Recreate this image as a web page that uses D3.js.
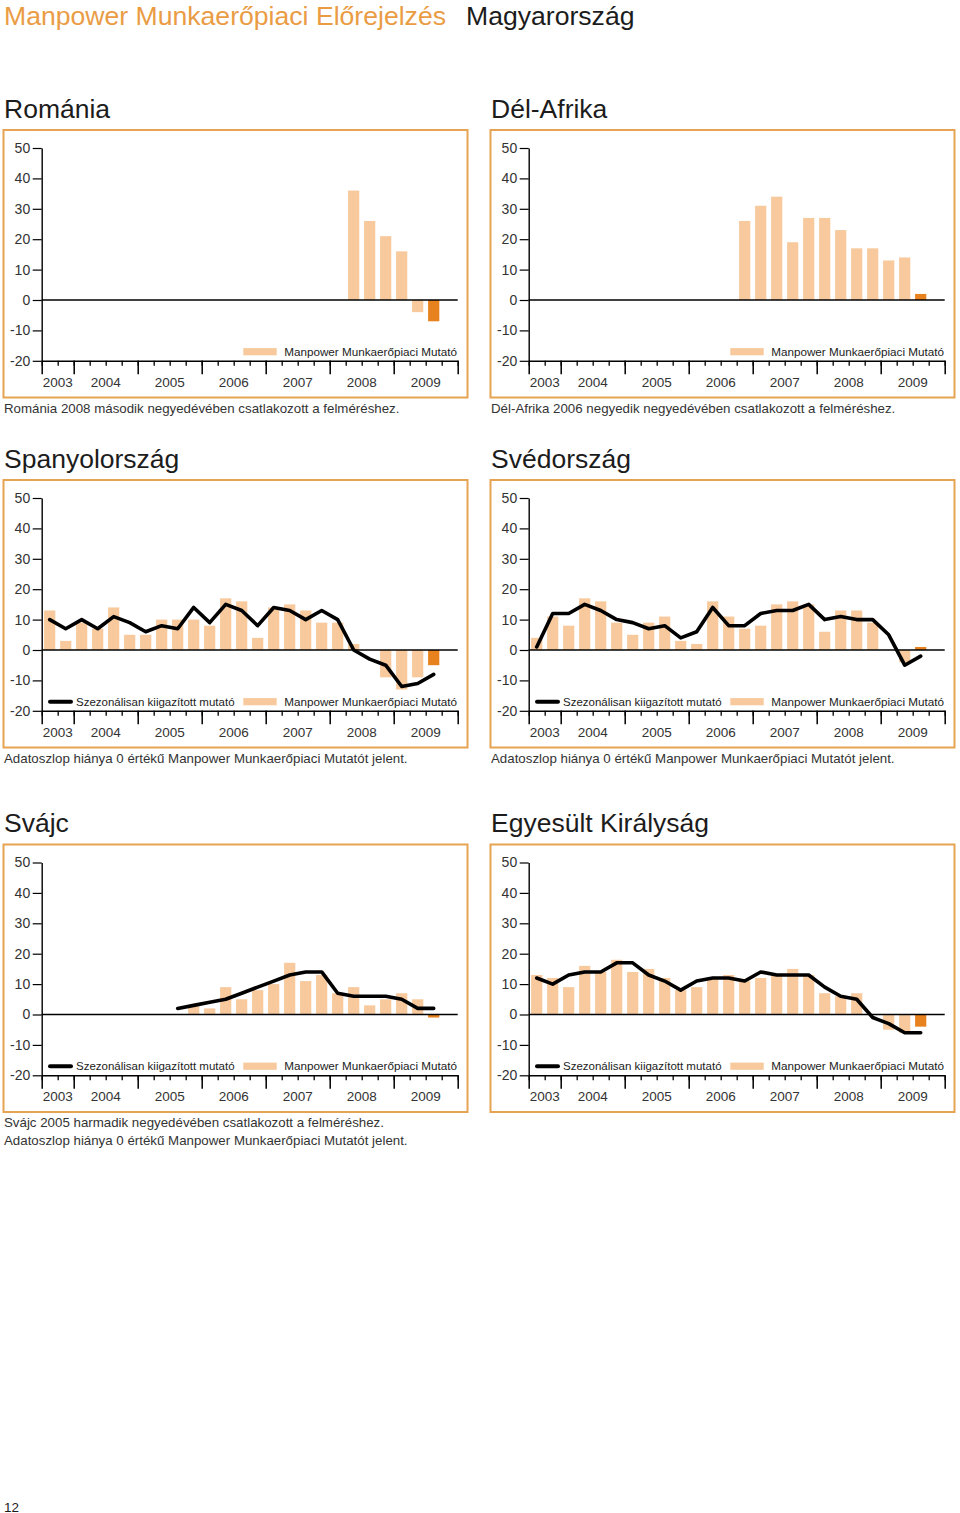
<!DOCTYPE html>
<html>
<head>
<meta charset="utf-8">
<script src="https://cdn.jsdelivr.net/npm/d3@7"></script>
<style>
  html, body { margin: 0; padding: 0; background: #fff; }
  svg { display: block; font-family: "Liberation Sans", Arial, Helvetica, sans-serif; }
</style>
</head>
<body>
<svg id="chart" width="960" height="1513"></svg>
<script>
// ---------------- DATA ----------------
const quarters = [
  "2003 Q3","2003 Q4",
  "2004 Q1","2004 Q2","2004 Q3","2004 Q4",
  "2005 Q1","2005 Q2","2005 Q3","2005 Q4",
  "2006 Q1","2006 Q2","2006 Q3","2006 Q4",
  "2007 Q1","2007 Q2","2007 Q3","2007 Q4",
  "2008 Q1","2008 Q2","2008 Q3","2008 Q4",
  "2009 Q1","2009 Q2","2009 Q3","2009 Q4"
];
const years = ["2003","2004","2005","2006","2007","2008","2009"];
const yTicks = [50, 40, 30, 20, 10, 0, -10, -20];
const forecastQuarter = "2009 Q3";

const headerTitle = "Manpower Munkaerőpiaci Előrejelzés";
const headerCountry = "Magyarország";
const pageNumber = "12";
const legendIndex = "Manpower Munkaerőpiaci Mutató";
const legendSA = "Szezonálisan kiigazított mutató";
const noteMissing = "Adatoszlop hiánya 0 értékű Manpower Munkaerőpiaci Mutatót jelent.";

// values aligned to quarters (2003 Q3 ... 2009 Q3); null = no data
const romaniaIndex = [null,null,null,null,null,null,null,null,null,null,null,null,null,null,null,null,null,null,null,36,26,21,16,-4,-7];

const southAfricaIndex = [null,null,null,null,null,null,null,null,null,null,null,null,null,26,31,34,19,27,27,23,17,17,13,14,2];

const spainIndex = [13,3,9,7,14,5,5,10,10,10,8,17,16,4,14,15,13,9,9,2,0,-9,-13,-9,-5];
const spainSA    = [10,7,10,7,11,9,6,8,7,14,9,15,13,8,14,13,10,13,10,0,-3,-5,-12,-11,-8];

const swedenIndex = [4,11,8,17,16,9,5,9,11,3,2,16,11,7,8,15,16,15,6,13,13,9,0,-4,1];
const swedenSA    = [1,12,12,15,13,10,9,7,8,4,6,14,8,8,12,13,13,15,10,11,10,10,5,-5,-2];

const switzerlandIndex = [null,null,null,null,null,null,null,null,0,3,2,9,5,8,10,17,11,13,7,9,3,5,7,5,-1];
const switzerlandSA    = [null,null,null,null,null,null,null,null,2,3,4,5,7,9,11,13,14,14,7,6,6,6,5,2,2];

const ukIndex = [13,12,9,16,14,18,14,15,12,8,9,12,13,11,12,13,15,13,7,6,7,0,-5,-6,-4];
const ukSA    = [12,10,13,14,14,17,17,13,11,8,11,12,12,11,14,13,13,13,9,6,5,-1,-3,-6,-6];

const panels = [
  { title: "Románia", col: 0, row: 0, index: romaniaIndex, sa: null,
    notes: ["Románia 2008 második negyedévében csatlakozott a felméréshez."] },
  { title: "Dél-Afrika", col: 1, row: 0, index: southAfricaIndex, sa: null,
    notes: ["Dél-Afrika 2006 negyedik negyedévében csatlakozott a felméréshez."] },
  { title: "Spanyolország", col: 0, row: 1, index: spainIndex, sa: spainSA,
    notes: [noteMissing] },
  { title: "Svédország", col: 1, row: 1, index: swedenIndex, sa: swedenSA,
    notes: [noteMissing] },
  { title: "Svájc", col: 0, row: 2, index: switzerlandIndex, sa: switzerlandSA,
    notes: ["Svájc 2005 harmadik negyedévében csatlakozott a felméréshez.", noteMissing] },
  { title: "Egyesült Királyság", col: 1, row: 2, index: ukIndex, sa: ukSA,
    notes: [] }
];

// ---------------- STYLE / LAYOUT ----------------
const colDX = [0, 487];
const rowZero = [300, 650, 1014.5];
const C = {
  light: "#f7c99c",
  orange: "#e8821e",
  frame: "#e6a352",
  header: "#ea9c45",
  text: "#333333",
  title: "#1c1c1c"
};

const svg = d3.select("#chart");

// Header
svg.append("text").attr("x", 4).attr("y", 24.5)
  .attr("font-size", 26.6).attr("fill", C.header).text(headerTitle);
svg.append("text").attr("x", 466).attr("y", 24.5)
  .attr("font-size", 26.6).attr("fill", C.title).text(headerCountry);

// Page number
svg.append("text").attr("x", 4).attr("y", 1511.5)
  .attr("font-size", 13.5).attr("fill", C.title).text(pageNumber);

panels.forEach(p => {
  const dx = colDX[p.col];
  const Y0 = rowZero[p.row];
  const g = svg.append("g");

  const x0 = 41.7 + dx, x1 = 457.7 + dx;
  const y = d3.scaleLinear().domain([-20, 50]).range([Y0 + 60.8, Y0 - 152]);
  const x = d3.scaleBand().domain(quarters).range([x0, x1])
    .paddingInner(0.3).paddingOuter(0.15);
  const slot = d3.scaleLinear().domain([0, quarters.length]).range([x0, x1]);

  // title
  g.append("text").attr("x", 4 + dx).attr("y", Y0 - 182.3)
    .attr("font-size", 26.5).attr("fill", C.title).text(p.title);

  // frame
  g.append("rect").attr("x", 3.5 + dx).attr("y", Y0 - 170)
    .attr("width", 464).attr("height", 267.5)
    .attr("fill", "none").attr("stroke", C.frame).attr("stroke-width", 2);

  // bars
  const barData = p.index.map((v, i) => ({ q: quarters[i], v }))
    .filter(d => d.v !== null && d.v !== 0);
  g.append("g").selectAll("rect").data(barData).join("rect")
    .attr("x", d => x(d.q))
    .attr("width", x.bandwidth())
    .attr("y", d => y(Math.max(0, d.v)))
    .attr("height", d => Math.abs(y(d.v) - y(0)))
    .attr("fill", d => d.q === forecastQuarter ? C.orange : C.light);

  // zero line
  g.append("line").attr("x1", x0).attr("x2", x1)
    .attr("y1", y(0)).attr("y2", y(0))
    .attr("stroke", "#000").attr("stroke-width", 1.3);

  // seasonally adjusted line
  if (p.sa) {
    const lineData = p.sa.map((v, i) => ({ q: quarters[i], v })).filter(d => d.v !== null);
    const line = d3.line().x(d => x(d.q) + x.bandwidth() / 2).y(d => y(d.v));
    g.append("path").datum(lineData).attr("d", line)
      .attr("fill", "none").attr("stroke", "#000")
      .attr("stroke-width", 3.6).attr("stroke-linejoin", "round").attr("stroke-linecap", "round");
  }

  // y axis
  const yAxis = d3.axisLeft(y).tickValues(yTicks).tickSize(9).tickSizeOuter(0).tickPadding(2.5)
    .tickFormat(d => String(d));
  const ya = g.append("g").attr("transform", `translate(${x0},0)`).call(yAxis);
  ya.select(".domain").attr("stroke", "#000").attr("stroke-width", 1.4);
  ya.selectAll(".tick line").attr("stroke", "#000").attr("stroke-width", 1.2);
  ya.selectAll(".tick text").attr("font-size", 14).attr("fill", C.text)
    .attr("font-family", "'Liberation Sans', Arial, sans-serif");

  // x axis: minor ticks (every quarter)
  const yBase = y(-20);
  const minor = d3.axisBottom(slot).tickValues(d3.range(quarters.length + 1))
    .tickSize(5).tickSizeOuter(0).tickFormat("");
  const xa = g.append("g").attr("transform", `translate(0,${yBase})`).call(minor);
  xa.select(".domain").attr("stroke", "#000").attr("stroke-width", 1.6);
  xa.selectAll(".tick line").attr("stroke", "#000").attr("stroke-width", 1.3);

  // year boundaries (major ticks)
  const yearStarts = years.map(yr => quarters.findIndex(q => q.startsWith(yr)));
  const majorVals = yearStarts.concat([quarters.length]);
  const major = d3.axisBottom(slot).tickValues(majorVals).tickSize(13.5).tickSizeOuter(0).tickFormat("");
  const xm = g.append("g").attr("transform", `translate(0,${yBase})`).call(major);
  xm.select(".domain").remove();
  xm.selectAll(".tick line").attr("stroke", "#000").attr("stroke-width", 1.5);

  // year labels
  g.append("g").selectAll("text").data(years).join("text")
    .attr("x", (yr, i) => (slot(majorVals[i]) + slot(majorVals[i + 1])) / 2)
    .attr("y", Y0 + 86.7)
    .attr("text-anchor", "middle").attr("font-size", 13.5).attr("fill", C.text)
    .text(d => d);

  // legend
  const ly = Y0 + 51.7;
  g.append("rect").attr("x", 243.3 + dx).attr("y", ly - 3.6)
    .attr("width", 33.4).attr("height", 7.2).attr("fill", C.light);
  g.append("text").attr("x", 457 + dx).attr("y", ly + 4.2)
    .attr("text-anchor", "end").attr("font-size", 11.7).attr("fill", C.title).text(legendIndex);
  if (p.sa) {
    g.append("line").attr("x1", 50 + dx).attr("x2", 71 + dx).attr("y1", ly).attr("y2", ly)
      .attr("stroke", "#000").attr("stroke-width", 4).attr("stroke-linecap", "round");
    g.append("text").attr("x", 76 + dx).attr("y", ly + 4.2)
      .attr("font-size", 11.5).attr("fill", C.title).text(legendSA);
  }

  // notes
  g.append("g").selectAll("text").data(p.notes).join("text")
    .attr("x", 4 + dx).attr("y", (d, i) => Y0 + 112.6 + i * 17.4)
    .attr("font-size", 13.3).attr("fill", C.text).text(d => d);
});
</script>
</body>
</html>
